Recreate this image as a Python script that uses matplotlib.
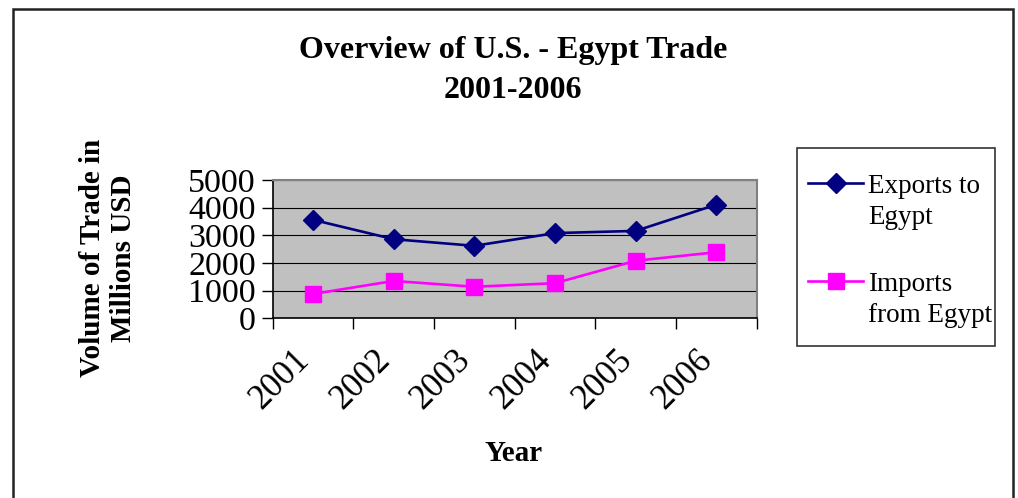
import matplotlib
matplotlib.use('Agg')
import matplotlib.pyplot as plt
import matplotlib.transforms as mtransforms
from matplotlib.patches import Rectangle
from matplotlib.lines import Line2D
import numpy as np

years = ['2001', '2002', '2003', '2004', '2005', '2006']
exports = [3560, 2860, 2620, 3080, 3160, 4110]
imports = [880, 1350, 1140, 1270, 2080, 2390]
y_ticks = [0, 1000, 2000, 3000, 4000, 5000]
series_names = ['Exports to\nEgypt', 'Imports\nfrom Egypt']
series_colors = ['#000080', '#FF00FF']
series_markers = ['D', 's']
series_ms = [10.5, 11.5]

plt.rcParams['font.family'] = ['Liberation Serif', 'DejaVu Serif']

W, H = 1018, 498
fig = plt.figure(figsize=(W / 100, H / 100), dpi=100)

# outer chart frame (bottom edge runs off the image)
fig.patches.append(Rectangle((13 / W, -0.05), 1000 / W, 1.05 - 9 / H, transform=fig.transFigure,
                             fill=False, edgecolor='#222222', linewidth=1.8))

ax = fig.add_axes([272.7 / W, 1 - 318.3 / H, 484 / W, 138.3 / H])
ax.set_facecolor('#C0C0C0')

x = np.arange(len(years))
for vals, c, m, ms in zip([exports, imports], series_colors, series_markers, series_ms):
    ax.plot(x, vals, color=c, linewidth=1.9, marker=m, markersize=ms)

ax.set_ylim(0, 5000)
ax.set_yticks(y_ticks)
ax.set_yticklabels([str(v) for v in y_ticks], fontsize=24.5)
ax.yaxis.grid(True, color='black', linewidth=0.8)
ax.set_axisbelow(True)

ax.set_xlim(-0.5, len(years) - 0.5)
ax.set_xticks(np.arange(len(years) + 1) - 0.5)
ax.set_xticklabels([])
ax.set_xticks(x, minor=True)
ax.set_xticklabels(years, minor=True, fontsize=25, rotation=45, ha='right', va='top', rotation_mode='anchor')
ax.tick_params(axis='x', which='minor', length=0, pad=14)
ax.tick_params(axis='x', which='major', length=8, width=1, direction='out')
ax.tick_params(axis='y', length=8, width=1, direction='out', pad=4)
# nudge the slanted year labels left/down like Excel places them
shift = mtransforms.ScaledTranslation(-20 / 100, -6 / 100, fig.dpi_scale_trans)
for lab in ax.get_xticklabels(minor=True):
    lab.set_transform(lab.get_transform() + shift)

for s in ['top', 'right']:
    ax.spines[s].set_color('#808080')
    ax.spines[s].set_linewidth(1.5)
for s in ['left', 'bottom']:
    ax.spines[s].set_color('black')
    ax.spines[s].set_linewidth(1.2)

fig.text(513 / W, 1 - 70.5 / H, 'Overview of U.S. - Egypt Trade\n2001-2006', fontsize=23, fontweight='bold',
         ha='center', va='center', linespacing=1.52)
fig.text(514 / W, 1 - 453 / H, 'Year', fontsize=21, fontweight='bold', ha='center', va='center')
fig.text(108 / W, 1 - 258 / H, 'Volume of Trade in\nMillions USD', fontsize=21, fontweight='bold',
         rotation=90, ha='center', va='center', linespacing=1.2)

# legend box, drawn by hand so the key sits level with the first text line
fig.patches.append(Rectangle((797 / W, 1 - 346 / H), 198 / W, 198 / H, transform=fig.transFigure,
                             fill=False, edgecolor='#333333', linewidth=1.2))
for i, (name, c, m, ms) in enumerate(zip(series_names, series_colors, series_markers, series_ms)):
    yk = 1 - (183 + i * 98) / H
    fig.lines.append(Line2D([808 / W, 863 / W], [yk, yk], transform=fig.transFigure, color=c, linewidth=1.9))
    fig.lines.append(Line2D([836 / W], [yk], transform=fig.transFigure, color=c, marker=m, markersize=ms))
    fig.text(868 / W, yk + 9 / H, name, fontsize=19.5, ha='left', va='top', linespacing=1.3)

plt.savefig('out.png', dpi=100)
